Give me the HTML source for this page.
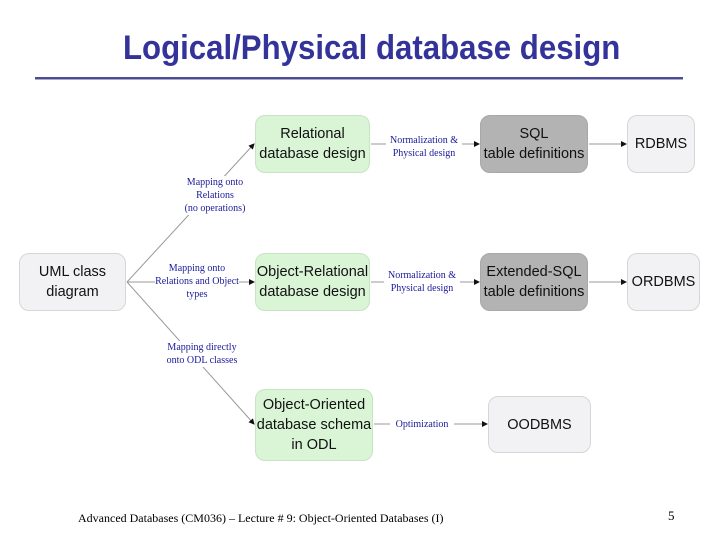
<!DOCTYPE html>
<html><head><meta charset="utf-8"><style>
body{margin:0;background:#fff;}
.w{position:relative;width:720px;height:540px;overflow:hidden;font-family:"Liberation Sans",sans-serif;}
.t{position:absolute;left:123px;top:28px;width:497px;height:40px;font-family:"Liberation Sans Narrow","Liberation Sans",sans-serif;font-weight:bold;font-size:34px;color:#333399;white-space:nowrap;line-height:40px;}
.b{position:absolute;box-sizing:border-box;border:1px solid #ccc;border-radius:10px;display:flex;align-items:center;justify-content:center;text-align:center;font-size:14.5px;line-height:20px;color:#111;}
.g{background:#d9f5d6;border-color:#c8e4c4;}
.d{background:#b3b3b3;border-color:#a8a8a8;}
.l{background:#f2f2f4;border-color:#d6d6d8;}
.lb{position:absolute;font-family:"Liberation Serif",serif;font-size:10px;color:#1a1a99;text-align:center;line-height:13px;background:#fff;white-space:nowrap;}
.f{position:absolute;font-family:"Liberation Serif",serif;font-size:12px;color:#000;}
</style></head><body><div class="w">
<div class="t"><span id="tt" style="display:inline-block;transform-origin:0 0;transform:scaleX(0.9)">Logical/Physical database design</span></div>
<div style="position:absolute;left:35px;top:77px;width:648px;height:2px;background:#4a4aa0"></div>
<div style="position:absolute;left:35px;top:79px;width:648px;height:1px;background:#aab"></div>
<svg width="720" height="540" style="position:absolute;left:0;top:0">
<defs><marker id="a" markerWidth="6" markerHeight="6" refX="5" refY="3" orient="auto"><path d="M0,0 L6,3 L0,6z" fill="#111"/></marker></defs>
<g stroke="#999" stroke-width="1" fill="none" marker-end="url(#a)">
<line x1="127" y1="282" x2="254" y2="144"/>
<line x1="127" y1="282" x2="254" y2="282"/>
<line x1="127" y1="282" x2="254" y2="424"/>
<line x1="371" y1="144" x2="479" y2="144"/>
<line x1="371" y1="282" x2="479" y2="282"/>
<line x1="589" y1="144" x2="626" y2="144"/>
<line x1="589" y1="282" x2="626" y2="282"/>
<line x1="374" y1="424" x2="487" y2="424"/>
</g></svg>
<div class="b l" style="left:19px;top:253px;width:107px;height:58px">UML class<br>diagram</div>
<div class="b g" style="left:255px;top:115px;width:115px;height:58px">Relational<br>database design</div>
<div class="b g" style="left:255px;top:253px;width:115px;height:58px">Object-Relational<br>database design</div>
<div class="b g" style="left:255px;top:389px;width:118px;height:72px">Object-Oriented<br>database schema<br>in ODL</div>
<div class="b d" style="left:480px;top:115px;width:108px;height:58px">SQL<br>table definitions</div>
<div class="b d" style="left:480px;top:253px;width:108px;height:58px">Extended-SQL<br>table definitions</div>
<div class="b l" style="left:627px;top:115px;width:68px;height:58px">RDBMS</div>
<div class="b l" style="left:627px;top:253px;width:73px;height:58px">ORDBMS</div>
<div class="b l" style="left:488px;top:396px;width:103px;height:57px">OODBMS</div>
<div class="lb" style="left:180px;top:176px;width:70px">Mapping onto<br>Relations<br>(no operations)</div>
<div class="lb" style="left:147px;top:262px;width:100px;background:none">Mapping onto<br><span style="background:#fff">Relations and Object</span><br>types</div>
<div class="lb" style="left:160px;top:341px;width:84px">Mapping directly<br>onto ODL classes</div>
<div class="lb" style="left:386px;top:134px;width:76px">Normalization &amp;<br>Physical design</div>
<div class="lb" style="left:384px;top:269px;width:76px">Normalization &amp;<br>Physical design</div>
<div class="lb" style="left:390px;top:418px;width:64px">Optimization</div>
<div class="f" style="left:78px;top:511px">Advanced Databases (CM036) – Lecture # 9: Object-Oriented Databases (I)</div>
<div class="f" style="left:668px;top:508px;font-size:13px">5</div>
</div>
<script>var s=document.getElementById('tt');s.style.transform='scaleX('+(497/s.offsetWidth)+')';</script>
</body></html>
